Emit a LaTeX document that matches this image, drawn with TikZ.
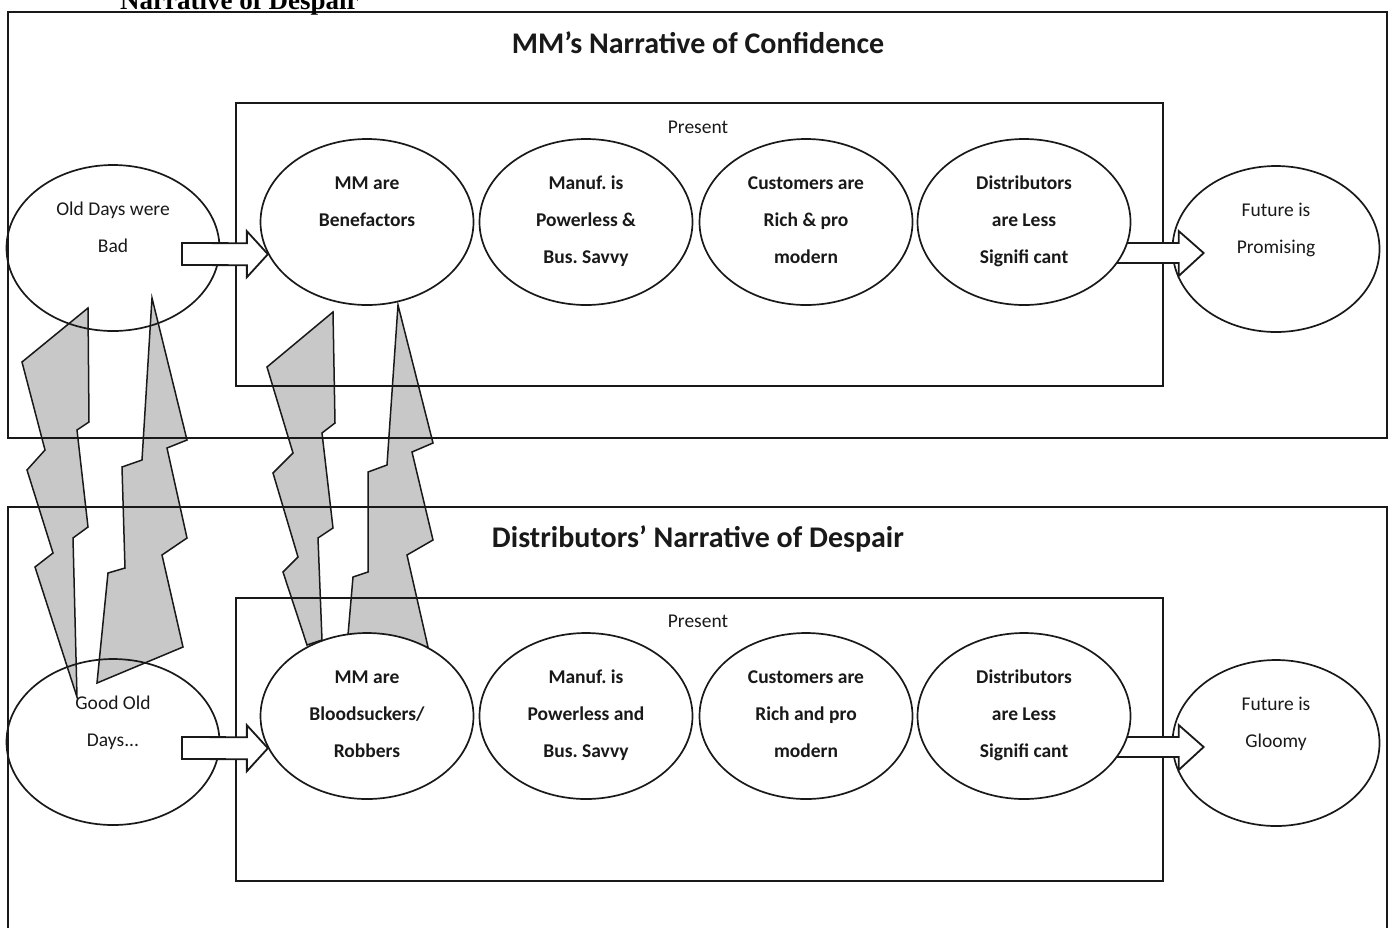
\documentclass[tikz,border=0pt]{standalone}
\usepackage{fontspec}
\setmainfont{Carlito}
\newfontfamily\serifhead{Liberation Serif}
\usetikzlibrary{shapes.geometric,calc}
\definecolor{ink}{RGB}{25,25,25}
\definecolor{boltgray}{RGB}{200,200,200}
\pgfdeclarelayer{bottom}
\pgfdeclarelayer{lower}
\pgfdeclarelayer{arrows}
\pgfsetlayers{bottom,lower,arrows,main}
\newcommand{\ovalstrut}{\rule[-5pt]{0pt}{19pt}}
\frenchspacing

\begin{document}
\begin{tikzpicture}[
        x=1pt, y=-1pt,
        frame/.style={draw=ink, line width=2.2pt},
        panel/.style={draw=ink, line width=1.8pt},
        oval/.style={ellipse, draw=ink, line width=1.7pt, inner sep=0pt,
                     minimum width=213pt, minimum height=166pt, align=center,
                     text=ink, font=\fontsize{19.5}{37}\selectfont},
        stage/.style={oval, fill=white, font=\fontsize{19.5}{37}\selectfont\bfseries},
        bolt/.style={draw=ink, line width=1.5pt, fill=boltgray, line join=miter},
        barrow/.style={draw=ink, line width=1.8pt, fill=white, line join=miter},
        title/.style={anchor=base, font=\fontsize{30}{36}\selectfont\bfseries, text=ink},
        lbl/.style={anchor=base, font=\fontsize{19.5}{24}\selectfont, text=ink}]

    \useasboundingbox (0,0) rectangle (1388,927);

    \node[anchor=base west, inner sep=0pt, text=black,
          font=\serifhead\bfseries\fontsize{27}{30}\selectfont] (cuthead) at (120,9) {Narrative of Despair};

    % --- MM's narrative (top)
    \node[title] (ttop) at (698,53) {MM’s Narrative of Confidence};
    \node[lbl]   (ptop) at (698,133) {Present};
    \begin{pgfonlayer}{lower}
    \node[oval] (oldT) at (113,248) {Old Days were\ovalstrut\\Bad\\\ovalstrut};
    \node[oval, minimum width=207pt] (futT) at (1276,249) {Future is\ovalstrut\\Promising\\\ovalstrut};
    \end{pgfonlayer}
    \node[stage] (mmT)  at (367,222)  {MM are\ovalstrut\\Benefactors\\\ovalstrut};
    \node[stage] (manT) at (586,222)  {Manuf. is\ovalstrut\\Powerless \&\\Bus. Savvy\ovalstrut};
    \node[stage] (cusT) at (806,222)  {Customers are\ovalstrut\\Rich \& pro\\modern\ovalstrut};
    \node[stage] (disT) at (1024,222) {Distributors\ovalstrut\\are Less\\Signifi cant\ovalstrut};

    % --- Distributors' narrative (bottom)
    \node[title] (tbot) at (698,547) {Distributors’ Narrative of Despair};
    \node[lbl]   (pbot) at (698,627) {Present};
    \begin{pgfonlayer}{lower}
    \node[oval] (oldB) at (113,742) {Good Old\ovalstrut\\Days...\\\ovalstrut};
    \node[oval, minimum width=207pt] (futB) at (1276,743) {Future is\ovalstrut\\Gloomy\\\ovalstrut};
    \end{pgfonlayer}
    \node[stage] (mmB)  at (367,716)  {MM are\ovalstrut\\Bloodsuckers/\\Robbers\ovalstrut};
    \node[stage] (manB) at (586,716)  {Manuf. is\ovalstrut\\Powerless and\\Bus. Savvy\ovalstrut};
    \node[stage] (cusB) at (806,716)  {Customers are\ovalstrut\\Rich and pro\\modern\ovalstrut};
    \node[stage] (disB) at (1024,716) {Distributors\ovalstrut\\are Less\\Signifi cant\ovalstrut};

    % --- block arrows
    \begin{pgfonlayer}{arrows}
    \draw[barrow] ($(oldT.center)+(69,-5)$) -- ($(mmT.198)+(-21,-11)$) -- ++(0,-12)
        -- (mmT.198) -- ++(-21,23) -- ++(0,-12) -- ($(oldT.center)+(69,17)$) -- cycle;
    \draw[barrow] ($(disT.center)+(0,21)$) -- ($(futT.west)+(7,-6)$) -- ++(0,-12)
        -- ++(25,22) -- ++(-25,23) -- ++(0,-13) -- ($(disT.center)+(0,41)$) -- cycle;
    \draw[barrow] ($(oldB.center)+(69,-5)$) -- ($(mmB.198)+(-21,-11)$) -- ++(0,-12)
        -- (mmB.198) -- ++(-21,23) -- ++(0,-12) -- ($(oldB.center)+(69,17)$) -- cycle;
    \draw[barrow] ($(disB.center)+(0,21)$) -- ($(futB.west)+(7,-6)$) -- ++(0,-12)
        -- ++(25,22) -- ++(-25,23) -- ++(0,-13) -- ($(disB.center)+(0,41)$) -- cycle;
    \end{pgfonlayer}

    \begin{pgfonlayer}{bottom}
    % lightning between the two stories
    \draw[bolt] (88,308) -- (22,362) -- (45,450) -- (27,470) -- (53,553) -- (35,567) -- (77,697)
        -- (73,538) -- (88,527) -- (77,430) -- (89,422) -- cycle;
    \draw[bolt] (152,298) -- (187,440) -- (167,448) -- (187,538) -- (162,555) -- (183,647)
        -- (97,683) -- (108,573) -- (125,568) -- (122,467) -- (142,460) -- cycle;
    \draw[bolt] (333,312) -- (267,367) -- (293,453) -- (273,473) -- (298,557) -- (283,572) -- (307,645)
        -- (322,640) -- (318,538) -- (333,528) -- (322,433) -- (335,423) -- cycle;
    \draw[bolt] (398,305) -- (433,443) -- (412,452) -- (433,540) -- (407,555) -- (428,647)
        -- (348,635) -- (353,577) -- (368,572) -- (368,472) -- (387,465) -- cycle;
    % frames
    \draw[frame] (8,12) rectangle (1387,438);
    \draw[panel] (236,103) rectangle (1163,386);
    \draw[frame] (8,507) rectangle (1387,950);
    \draw[panel] (236,598) rectangle (1163,881);
    \end{pgfonlayer}

    \end{tikzpicture}
\end{document}
